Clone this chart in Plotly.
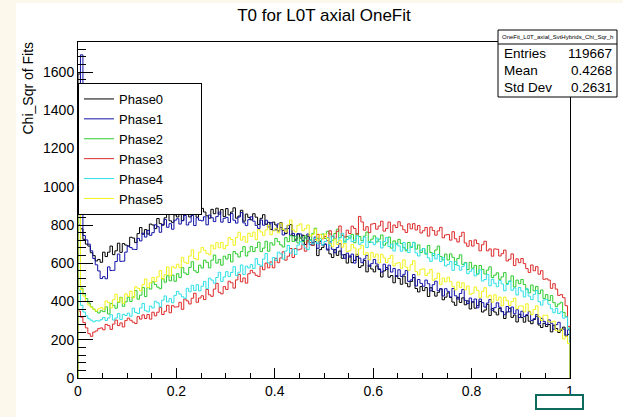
import numpy as np
import plotly.graph_objects as go

# ---------------- data (200 bins over [0,1]) ----------------
series_names = ["Phase0", "Phase1", "Phase2", "Phase3", "Phase4", "Phase5"]
series_colors = ["#000000", "#1212a8", "#2ecc2e", "#dd2b2b", "#2fe0e6", "#f2f21e"]

phase0 = [1590, 780, 725, 700, 690, 655, 640, 612, 620, 605,
          658, 635, 658, 690, 645, 665, 705, 657, 703, 695,
          690, 736, 732, 708, 755, 787, 752, 776, 753, 805,
          800, 781, 834, 807, 799, 838, 868, 822, 814, 853,
          842, 863, 823, 874, 860, 842, 868, 891, 841, 860,
          887, 868, 848, 836, 882, 859, 888, 857, 881, 844,
          886, 853, 868, 890, 836, 847, 877, 820, 857, 840,
          827, 859, 841, 803, 835, 854, 804, 814, 777, 815,
          800, 769, 812, 773, 755, 782, 802, 744, 726, 753,
          732, 746, 698, 742, 721, 694, 713, 640, 671, 683,
          700, 674, 649, 630, 671, 641, 664, 626, 645, 601,
          638, 603, 615, 635, 578, 587, 615, 555, 590, 570,
          555, 586, 567, 528, 560, 577, 527, 536, 498, 535,
          520, 490, 533, 495, 477, 505, 525, 468, 450, 478,
          457, 473, 426, 472, 452, 428, 448, 466, 409, 423,
          445, 421, 397, 380, 422, 395, 419, 383, 403, 361,
          398, 365, 378, 400, 345, 355, 385, 327, 363, 345,
          330, 364, 347, 311, 345, 365, 317, 329, 293, 333,
          316, 292, 327, 297, 284, 306, 323, 277, 264, 286,
          269, 280, 241, 276, 259, 238, 253, 266, 219, 228]

phase1 = [800, 1690, 745, 722, 700, 665, 625, 592, 560, 520,
          530, 519, 581, 562, 563, 609, 648, 610, 611, 658,
          690, 682, 673, 672, 730, 717, 757, 737, 772, 746,
          760, 801, 791, 762, 803, 829, 788, 807, 778, 825,
          833, 805, 823, 850, 800, 815, 850, 797, 838, 825,
          822, 843, 801, 852, 838, 818, 844, 867, 815, 835,
          840, 813, 860, 825, 810, 842, 865, 811, 797, 828,
          843, 820, 798, 782, 826, 799, 825, 790, 812, 771,
          775, 806, 787, 748, 780, 797, 747, 756, 718, 755,
          753, 719, 732, 753, 697, 708, 737, 678, 714, 695,
          700, 669, 712, 673, 655, 682, 702, 644, 626, 653,
          632, 648, 601, 647, 627, 603, 623, 641, 584, 598,
          620, 596, 571, 554, 595, 567, 590, 554, 573, 531,
          566, 531, 542, 562, 505, 513, 541, 481, 515, 495,
          480, 512, 493, 456, 488, 506, 456, 467, 429, 467,
          453, 424, 468, 430, 413, 442, 463, 406, 389, 418,
          397, 413, 367, 413, 394, 371, 392, 410, 354, 368,
          393, 370, 347, 331, 374, 346, 371, 336, 357, 316,
          349, 321, 331, 347, 301, 310, 332, 284, 312, 296,
          280, 304, 286, 255, 279, 291, 249, 256, 224, 252]

phase2 = [880, 470, 440, 415, 392, 372, 360, 348, 340, 352,
          347, 372, 335, 390, 380, 365, 395, 422, 375, 398,
          423, 400, 424, 457, 412, 433, 473, 426, 473, 465,
          503, 489, 475, 467, 519, 501, 535, 508, 538, 506,
          545, 525, 577, 549, 541, 578, 608, 561, 552, 590,
          575, 616, 605, 576, 616, 643, 601, 620, 590, 637,
          622, 646, 607, 661, 649, 633, 661, 687, 638, 660,
          688, 661, 682, 710, 661, 679, 715, 663, 707, 695,
          730, 713, 696, 685, 734, 713, 744, 714, 741, 706,
          737, 713, 743, 712, 722, 756, 783, 730, 718, 753,
          730, 767, 753, 720, 756, 778, 733, 747, 715, 740,
          732, 751, 707, 756, 740, 718, 742, 763, 709, 726,
          743, 711, 726, 748, 694, 706, 737, 679, 717, 700,
          725, 703, 681, 665, 709, 683, 709, 674, 696, 656,
          677, 648, 693, 656, 640, 669, 690, 635, 618, 648,
          617, 649, 631, 593, 625, 644, 594, 604, 567, 605,
          574, 589, 543, 588, 568, 544, 564, 581, 525, 538,
          550, 516, 529, 551, 495, 505, 534, 476, 512, 493,
          515, 489, 464, 445, 486, 456, 479, 441, 460, 416,
          436, 405, 431, 394, 373, 387, 396, 343, 321, 260]

phase3 = [350, 318, 290, 262, 232, 218, 240, 246, 258, 262,
          252, 280, 274, 254, 282, 303, 274, 288, 267, 300,
          313, 302, 292, 285, 321, 308, 330, 311, 332, 308,
          344, 325, 344, 369, 332, 349, 380, 341, 378, 371,
          372, 396, 359, 413, 403, 387, 417, 443, 396, 418,
          430, 410, 463, 435, 427, 465, 495, 448, 440, 478,
          463, 506, 498, 470, 513, 542, 503, 523, 496, 545,
          563, 550, 537, 531, 584, 566, 601, 576, 607, 576,
          626, 603, 628, 660, 616, 637, 677, 630, 677, 670,
          674, 699, 663, 718, 708, 694, 724, 751, 705, 728,
          740, 718, 770, 740, 730, 767, 795, 746, 737, 773,
          755, 794, 782, 752, 845, 816, 773, 791, 760, 805,
          808, 778, 795, 820, 768, 782, 815, 762, 800, 787,
          817, 796, 775, 761, 806, 780, 807, 774, 797, 758,
          770, 787, 742, 789, 771, 747, 769, 788, 733, 748,
          750, 721, 765, 728, 711, 741, 762, 706, 689, 718,
          690, 722, 703, 665, 697, 715, 665, 675, 637, 675,
          673, 638, 650, 669, 612, 621, 649, 588, 623, 603,
          625, 598, 572, 552, 591, 561, 582, 543, 561, 516,
          519, 512, 469, 493, 465, 432, 436, 420, 378, 270]

phase4 = [460, 380, 345, 325, 310, 302, 294, 300, 298, 305,
          316, 301, 314, 331, 303, 314, 337, 306, 333, 327,
          339, 323, 365, 343, 337, 366, 390, 352, 346, 376,
          366, 401, 393, 372, 407, 429, 398, 415, 393, 432,
          453, 439, 425, 417, 469, 451, 485, 458, 488, 456,
          480, 505, 467, 522, 512, 496, 526, 553, 505, 528,
          556, 531, 552, 582, 535, 553, 591, 541, 585, 575,
          593, 572, 624, 594, 585, 622, 651, 602, 593, 630,
          615, 658, 649, 622, 664, 693, 653, 674, 646, 695,
          713, 697, 680, 671, 720, 700, 731, 703, 730, 696,
          714, 734, 692, 743, 728, 709, 734, 757, 706, 724,
          743, 713, 720, 744, 699, 709, 737, 682, 714, 710,
          697, 732, 715, 680, 714, 735, 687, 700, 664, 705,
          691, 663, 708, 672, 656, 687, 709, 654, 638, 668,
          677, 652, 628, 610, 651, 623, 646, 609, 629, 586,
          594, 609, 563, 608, 588, 564, 584, 601, 545, 558,
          570, 534, 545, 565, 507, 515, 542, 482, 516, 495,
          477, 510, 492, 456, 489, 508, 459, 471, 434, 473,
          455, 424, 467, 428, 410, 437, 457, 399, 381, 408,
          410, 386, 362, 341, 364, 337, 346, 313, 320, 260]

phase5 = [880, 462, 428, 400, 382, 370, 360, 350, 362, 368,
          360, 403, 394, 367, 409, 438, 398, 419, 391, 440,
          427, 454, 419, 477, 469, 456, 488, 518, 473, 498,
          526, 504, 529, 562, 518, 540, 581, 534, 582, 575,
          595, 577, 631, 605, 599, 638, 670, 625, 618, 658,
          683, 668, 652, 644, 695, 675, 708, 681, 709, 676,
          693, 734, 724, 694, 735, 762, 721, 739, 710, 757,
          740, 763, 723, 776, 764, 746, 774, 799, 749, 770,
          783, 759, 809, 777, 765, 800, 826, 775, 764, 798,
          806, 770, 781, 800, 742, 751, 778, 717, 751, 730,
          753, 728, 703, 686, 727, 698, 721, 684, 704, 661,
          665, 698, 680, 642, 675, 694, 645, 655, 618, 657,
          632, 648, 602, 647, 628, 604, 625, 642, 586, 600,
          603, 574, 618, 580, 563, 592, 613, 556, 539, 568,
          571, 536, 548, 568, 511, 520, 548, 488, 523, 503,
          527, 503, 478, 461, 502, 474, 498, 461, 481, 438,
          443, 476, 458, 420, 453, 472, 423, 433, 396, 435,
          407, 423, 377, 423, 404, 379, 400, 418, 362, 376,
          377, 346, 388, 350, 331, 358, 377, 320, 301, 328,
          328, 294, 293, 297, 249, 245, 256, 204, 219, 180]

x_range = [0.0, 1.0]
n_bins = 200
y_ticks = [0, 200, 400, 600, 800, 1000, 1200, 1400, 1600]
x_ticks = [0, 0.2, 0.4, 0.6, 0.8, 1]
x_tick_labels = ["0", "0.2", "0.4", "0.6", "0.8", "1"]

title_text = "T0 for L0T axial OneFit"
y_title = "Chi_Sqr of Fits"
stats_name = "OneFit_L0T_axial_SvtHybrids_Chi_Sqr_h"
stats_rows = [("Entries", "119667"), ("Mean", "0.4268"), ("Std Dev", "0.2631")]

# ---------------- geometry helpers ----------------
W, H = 623, 417
L, R, T, B = 78, 570, 42, 378  # plot area in px
def px2x(px):
    return (px - L) / (R - L)
def py2y(py):
    return (B - py) / (B - T)

FONT = "Liberation Sans, Arial, Helvetica, sans-serif"
PAD = "\u00a0" * 9

edges = np.linspace(x_range[0], x_range[1], n_bins + 1)

fig = go.Figure()
all_series = [phase0, phase1, phase2, phase3, phase4, phase5]
for name, color, vals in zip(series_names, series_colors, all_series):
    xs = [edges[0]] + list(edges[:-1]) + [edges[-1], edges[-1]]
    ys = [0] + list(vals) + [vals[-1], 0]
    fig.add_trace(go.Scatter(x=xs, y=ys, mode="lines", name=name + PAD,
                             line=dict(color=color, width=1, shape="hv"),
                             hoverinfo="skip"))

shapes = []
shapes.append(dict(type="rect", xref="paper", yref="paper",
                   x0=px2x(16), x1=px2x(W + 5), y0=py2y(H + 5), y1=py2y(3),
                   fillcolor="white", line=dict(width=0), layer="below"))
sb_l, sb_r, sb_t, sb_sep, sb_b = 498, 617, 30, 44, 97
shapes.append(dict(type="rect", xref="paper", yref="paper",
                   x0=px2x(sb_l), x1=px2x(sb_r), y0=py2y(sb_b), y1=py2y(sb_t),
                   fillcolor="white", line=dict(color="black", width=1), layer="above"))
shapes.append(dict(type="line", xref="paper", yref="paper",
                   x0=px2x(sb_l), x1=px2x(sb_r), y0=py2y(sb_sep), y1=py2y(sb_sep),
                   line=dict(color="black", width=1), layer="above"))
shapes.append(dict(type="rect", xref="paper", yref="paper",
                   x0=px2x(536), x1=px2x(583), y0=py2y(409), y1=py2y(395),
                   fillcolor="white", line=dict(color="#0d6b5e", width=2), layer="above"))

annotations = []
annotations.append(dict(text=stats_name, xref="paper", yref="paper",
                        x=px2x((sb_l + sb_r) / 2), y=py2y(37), showarrow=False,
                        font=dict(family=FONT, size=6, color="black"),
                        xanchor="center", yanchor="middle"))
for i, (k, v) in enumerate(stats_rows):
    yy = py2y(53 + i * 17.5)
    annotations.append(dict(text=k, xref="paper", yref="paper", x=px2x(502), y=yy,
                            showarrow=False, xanchor="left", yanchor="middle",
                            font=dict(family=FONT, size=13.5, color="black")))
    annotations.append(dict(text=v, xref="paper", yref="paper", x=px2x(614), y=yy,
                            showarrow=False, xanchor="right", yanchor="middle",
                            font=dict(family=FONT, size=13.5, color="black")))
annotations.append(dict(text=y_title, xref="paper", yref="paper", x=px2x(27), y=py2y(40),
                        showarrow=False, textangle=-90, xanchor="center", yanchor="top",
                        font=dict(family=FONT, size=14, color="black")))

fig.update_layout(
    width=W, height=H,
    margin=dict(l=L, r=W - R, t=T, b=H - B, pad=0),
    paper_bgcolor="#fdf8ec", plot_bgcolor="white",
    font=dict(family=FONT, size=14, color="black"),
    title=dict(text=title_text, x=px2x(324), xref="paper", xanchor="center",
               y=1 - 15 / H, yref="container", yanchor="middle",
               font=dict(family=FONT, size=17, color="black")),
    showlegend=True,
    legend=dict(x=0, y=py2y(83), xanchor="left", yanchor="top",
                bgcolor="white", bordercolor="black", borderwidth=1,
                font=dict(family=FONT, size=13, color="black"),
                tracegroupgap=0),
    shapes=shapes, annotations=annotations,
    xaxis=dict(range=x_range, tickvals=x_ticks, ticktext=x_tick_labels,
               showgrid=False, zeroline=False, showline=True, linecolor="black",
               linewidth=1, mirror=True, ticks="inside", ticklen=10, tickcolor="black",
               tickfont=dict(family=FONT, size=14, color="black"),
               minor=dict(dtick=0.05, ticks="inside", ticklen=5, tickcolor="black", showgrid=False)),
    yaxis=dict(range=[0, 1757], tickvals=y_ticks,
               showgrid=False, zeroline=False, showline=True, linecolor="black",
               linewidth=1, mirror=True, ticks="inside", ticklen=15, tickcolor="black",
               tickfont=dict(family=FONT, size=14, color="black"),
               minor=dict(dtick=40, ticks="inside", ticklen=8, tickcolor="black", showgrid=False)),
)

fig.write_html("out.html")
